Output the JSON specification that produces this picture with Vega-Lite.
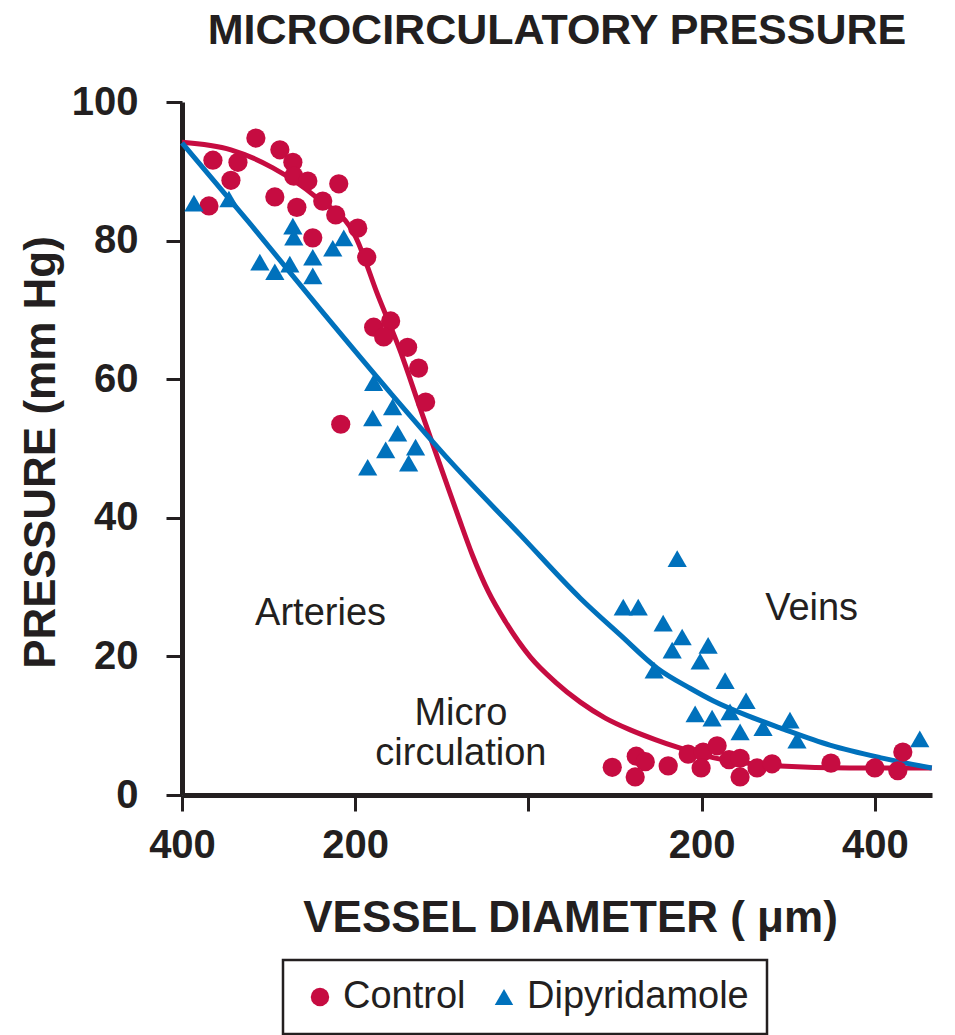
{
  "$schema": "https://vega.github.io/schema/vega-lite/v6.json",
  "width": 750,
  "height": 693,
  "autosize": {"type": "none"},
  "padding": {"left": 182, "top": 102, "right": 23, "bottom": 240},
  "background": "white",
  "config": {
    "font": "Liberation Sans",
    "view": {"stroke": null},
    "axis": {
      "grid": false,
      "domainColor": "#231f20",
      "domainWidth": 5,
      "tickColor": "#231f20",
      "tickWidth": 3,
      "tickSize": 16,
      "labelColor": "#231f20",
      "labelFont": "Liberation Sans",
      "labelFontSize": 40,
      "labelFontWeight": "bold",
      "titleColor": "#231f20",
      "titleFont": "Liberation Sans",
      "titleFontSize": 44,
      "titleFontWeight": "bold",
      "labelOverlap": false,
      "labelFlush": false
    },
    "legend": {
      "orient": "none",
      "legendX": 101,
      "legendY": 858,
      "direction": "horizontal",
      "strokeColor": "#231f20",
      "strokeWidth": 2.5,
      "padding": 18,
      "labelFont": "Liberation Sans",
      "labelFontSize": 38,
      "labelColor": "#231f20",
      "labelLimit": 0,
      "labelOffset": 4,
      "columnPadding": 19,
      "symbolSize": 340,
      "symbolStrokeWidth": 0
    }
  },
  "title": {
    "text": "MICROCIRCULATORY PRESSURE",
    "font": "Liberation Sans",
    "fontSize": 43,
    "fontWeight": "bold",
    "color": "#231f20",
    "anchor": "middle",
    "baseline": "alphabetic",
    "offset": 38,
    "dy": 43
  },
  "datasets": {
    "curves": [
      {"group": "Control", "diameter": -400, "pressure": 94.2},
      {"group": "Control", "diameter": -343.5, "pressure": 93.1},
      {"group": "Control", "diameter": -295.1, "pressure": 90.5},
      {"group": "Control", "diameter": -245.5, "pressure": 86.3},
      {"group": "Control", "diameter": -199.4, "pressure": 80.5},
      {"group": "Control", "diameter": -174.1, "pressure": 72.2},
      {"group": "Control", "diameter": -147.5, "pressure": 63.9},
      {"group": "Control", "diameter": -124.5, "pressure": 55.6},
      {"group": "Control", "diameter": -98.0, "pressure": 46.2},
      {"group": "Control", "diameter": -80.7, "pressure": 40.1},
      {"group": "Control", "diameter": -64.6, "pressure": 34.6},
      {"group": "Control", "diameter": -46.1, "pressure": 29.3},
      {"group": "Control", "diameter": -26.5, "pressure": 25.0},
      {"group": "Control", "diameter": 2.3, "pressure": 19.9},
      {"group": "Control", "diameter": 31.1, "pressure": 16.3},
      {"group": "Control", "diameter": 59.9, "pressure": 13.4},
      {"group": "Control", "diameter": 88.8, "pressure": 11.1},
      {"group": "Control", "diameter": 117.6, "pressure": 9.4},
      {"group": "Control", "diameter": 146.4, "pressure": 8.0},
      {"group": "Control", "diameter": 171.8, "pressure": 6.9},
      {"group": "Control", "diameter": 213.2, "pressure": 5.4},
      {"group": "Control", "diameter": 290.5, "pressure": 4.2},
      {"group": "Control", "diameter": 371.2, "pressure": 3.9},
      {"group": "Control", "diameter": 465.7, "pressure": 3.9},
      {"group": "Dipyridamole", "diameter": -400, "pressure": 94.1},
      {"group": "Dipyridamole", "diameter": -320.5, "pressure": 82.3},
      {"group": "Dipyridamole", "diameter": -239.8, "pressure": 70.0},
      {"group": "Dipyridamole", "diameter": -159.1, "pressure": 58.0},
      {"group": "Dipyridamole", "diameter": -89.9, "pressure": 48.1},
      {"group": "Dipyridamole", "diameter": -9.2, "pressure": 37.5},
      {"group": "Dipyridamole", "diameter": 59.9, "pressure": 28.4},
      {"group": "Dipyridamole", "diameter": 106.0, "pressure": 23.1},
      {"group": "Dipyridamole", "diameter": 148.7, "pressure": 18.3},
      {"group": "Dipyridamole", "diameter": 186.7, "pressure": 15.4},
      {"group": "Dipyridamole", "diameter": 213.2, "pressure": 13.6},
      {"group": "Dipyridamole", "diameter": 255.9, "pressure": 11.3},
      {"group": "Dipyridamole", "diameter": 290.5, "pressure": 9.7},
      {"group": "Dipyridamole", "diameter": 348.1, "pressure": 7.2},
      {"group": "Dipyridamole", "diameter": 405.8, "pressure": 5.4},
      {"group": "Dipyridamole", "diameter": 465.7, "pressure": 3.9}
    ],
    "points": [
      {"group": "Control", "diameter": -368.9, "pressure": 85.0},
      {"group": "Control", "diameter": -364.3, "pressure": 91.6},
      {"group": "Control", "diameter": -343.5, "pressure": 88.7},
      {"group": "Control", "diameter": -335.4, "pressure": 91.3},
      {"group": "Control", "diameter": -314.7, "pressure": 94.8},
      {"group": "Control", "diameter": -292.8, "pressure": 86.3},
      {"group": "Control", "diameter": -287.0, "pressure": 93.1},
      {"group": "Control", "diameter": -272.0, "pressure": 91.3},
      {"group": "Control", "diameter": -270.9, "pressure": 89.3},
      {"group": "Control", "diameter": -254.7, "pressure": 88.6},
      {"group": "Control", "diameter": -267.4, "pressure": 84.8},
      {"group": "Control", "diameter": -249.0, "pressure": 80.4},
      {"group": "Control", "diameter": -237.5, "pressure": 85.7},
      {"group": "Control", "diameter": -219.0, "pressure": 88.2},
      {"group": "Control", "diameter": -222.5, "pressure": 83.7},
      {"group": "Control", "diameter": -197.1, "pressure": 81.8},
      {"group": "Control", "diameter": -186.7, "pressure": 77.6},
      {"group": "Control", "diameter": -216.7, "pressure": 53.5},
      {"group": "Control", "diameter": -178.7, "pressure": 67.5},
      {"group": "Control", "diameter": -159.1, "pressure": 68.4},
      {"group": "Control", "diameter": -167.1, "pressure": 66.1},
      {"group": "Control", "diameter": -139.5, "pressure": 64.6},
      {"group": "Control", "diameter": -126.8, "pressure": 61.6},
      {"group": "Control", "diameter": -118.7, "pressure": 56.7},
      {"group": "Control", "diameter": 96.8, "pressure": 4.0},
      {"group": "Control", "diameter": 124.5, "pressure": 5.6},
      {"group": "Control", "diameter": 134.9, "pressure": 4.8},
      {"group": "Control", "diameter": 123.3, "pressure": 2.6},
      {"group": "Control", "diameter": 161.4, "pressure": 4.2},
      {"group": "Control", "diameter": 184.4, "pressure": 5.9},
      {"group": "Control", "diameter": 201.7, "pressure": 6.2},
      {"group": "Control", "diameter": 217.9, "pressure": 7.1},
      {"group": "Control", "diameter": 199.4, "pressure": 3.9},
      {"group": "Control", "diameter": 231.7, "pressure": 5.1},
      {"group": "Control", "diameter": 244.4, "pressure": 5.3},
      {"group": "Control", "diameter": 244.4, "pressure": 2.6},
      {"group": "Control", "diameter": 264.0, "pressure": 3.9},
      {"group": "Control", "diameter": 281.3, "pressure": 4.5},
      {"group": "Control", "diameter": 349.3, "pressure": 4.6},
      {"group": "Control", "diameter": 400.0, "pressure": 3.9},
      {"group": "Control", "diameter": 426.5, "pressure": 3.5},
      {"group": "Control", "diameter": 432.3, "pressure": 6.2},
      {"group": "Dipyridamole", "diameter": -386.2, "pressure": 85.4},
      {"group": "Dipyridamole", "diameter": -345.8, "pressure": 86.0},
      {"group": "Dipyridamole", "diameter": -310.1, "pressure": 76.9},
      {"group": "Dipyridamole", "diameter": -292.8, "pressure": 75.5},
      {"group": "Dipyridamole", "diameter": -275.5, "pressure": 76.6},
      {"group": "Dipyridamole", "diameter": -272.0, "pressure": 82.1},
      {"group": "Dipyridamole", "diameter": -270.9, "pressure": 80.5},
      {"group": "Dipyridamole", "diameter": -249.0, "pressure": 77.6},
      {"group": "Dipyridamole", "diameter": -249.0, "pressure": 74.9},
      {"group": "Dipyridamole", "diameter": -225.9, "pressure": 78.9},
      {"group": "Dipyridamole", "diameter": -213.2, "pressure": 80.4},
      {"group": "Dipyridamole", "diameter": -178.7, "pressure": 59.5},
      {"group": "Dipyridamole", "diameter": -179.8, "pressure": 54.4},
      {"group": "Dipyridamole", "diameter": -156.8, "pressure": 56.0},
      {"group": "Dipyridamole", "diameter": -151.0, "pressure": 52.2},
      {"group": "Dipyridamole", "diameter": -164.8, "pressure": 49.8},
      {"group": "Dipyridamole", "diameter": -130.3, "pressure": 50.2},
      {"group": "Dipyridamole", "diameter": -138.3, "pressure": 47.9},
      {"group": "Dipyridamole", "diameter": -185.6, "pressure": 47.3},
      {"group": "Dipyridamole", "diameter": 171.8, "pressure": 34.1},
      {"group": "Dipyridamole", "diameter": 109.5, "pressure": 27.1},
      {"group": "Dipyridamole", "diameter": 126.8, "pressure": 27.1},
      {"group": "Dipyridamole", "diameter": 155.6, "pressure": 24.8},
      {"group": "Dipyridamole", "diameter": 177.5, "pressure": 22.8},
      {"group": "Dipyridamole", "diameter": 166.0, "pressure": 20.9},
      {"group": "Dipyridamole", "diameter": 207.5, "pressure": 21.6},
      {"group": "Dipyridamole", "diameter": 198.3, "pressure": 19.3},
      {"group": "Dipyridamole", "diameter": 145.2, "pressure": 18.0},
      {"group": "Dipyridamole", "diameter": 227.1, "pressure": 16.5},
      {"group": "Dipyridamole", "diameter": 251.3, "pressure": 13.6},
      {"group": "Dipyridamole", "diameter": 192.5, "pressure": 11.7},
      {"group": "Dipyridamole", "diameter": 212.1, "pressure": 11.1},
      {"group": "Dipyridamole", "diameter": 232.8, "pressure": 12.0},
      {"group": "Dipyridamole", "diameter": 244.4, "pressure": 9.1},
      {"group": "Dipyridamole", "diameter": 270.9, "pressure": 9.7},
      {"group": "Dipyridamole", "diameter": 302.0, "pressure": 10.8},
      {"group": "Dipyridamole", "diameter": 310.1, "pressure": 7.9},
      {"group": "Dipyridamole", "diameter": 451.9, "pressure": 8.1}
    ],
    "notes": [
      {"note": "Arteries", "diameter": -240, "pressure": 26.1},
      {"note": "Veins", "diameter": 327, "pressure": 26.9},
      {"note": "Micro", "diameter": -78, "pressure": 11.7},
      {"note": "circulation", "diameter": -78, "pressure": 5.9}
    ]
  },
  "encoding": {
    "x": {
      "field": "diameter",
      "type": "quantitative",
      "scale": {"domain": [-400, 466], "nice": false, "zero": false},
      "axis": {
        "values": [-400, -200, 0, 200, 400],
        "labelExpr": "datum.value == 0 ? '' : '' + abs(datum.value)",
        "labelPadding": 14,
        "title": "VESSEL DIAMETER ( μm)",
        "titleX": 388,
        "titleY": 136,
        "titleBaseline": "alphabetic"
      }
    },
    "y": {
      "field": "pressure",
      "type": "quantitative",
      "scale": {"domain": [0, 100], "nice": false},
      "axis": {
        "values": [0, 20, 40, 60, 80, 100],
        "labelPadding": 28,
        "title": "PRESSURE (mm Hg)",
        "titleAngle": -90,
        "titleX": -128,
        "titleY": 350,
        "titleBaseline": "alphabetic"
      }
    },
    "color": {
      "field": "group",
      "type": "nominal",
      "scale": {"domain": ["Control", "Dipyridamole"], "range": ["#c60c41", "#0071bc"]},
      "title": null
    }
  },
  "layer": [
    {
      "data": {"name": "curves"},
      "mark": {"type": "line", "strokeWidth": 5, "interpolate": "monotone"}
    },
    {
      "data": {"name": "points"},
      "mark": {"type": "point", "filled": true, "opacity": 1, "size": 370},
      "encoding": {
        "shape": {
          "field": "group",
          "type": "nominal",
          "scale": {"domain": ["Control", "Dipyridamole"], "range": ["circle", "triangle-up"]},
          "title": null
        }
      }
    },
    {
      "data": {"name": "notes"},
      "mark": {"type": "text", "fontSize": 38, "font": "Liberation Sans", "color": "#231f20", "align": "center", "baseline": "middle"},
      "encoding": {
        "color": {"value": "#231f20"},
        "text": {"field": "note", "type": "nominal"}
      }
    }
  ]
}
